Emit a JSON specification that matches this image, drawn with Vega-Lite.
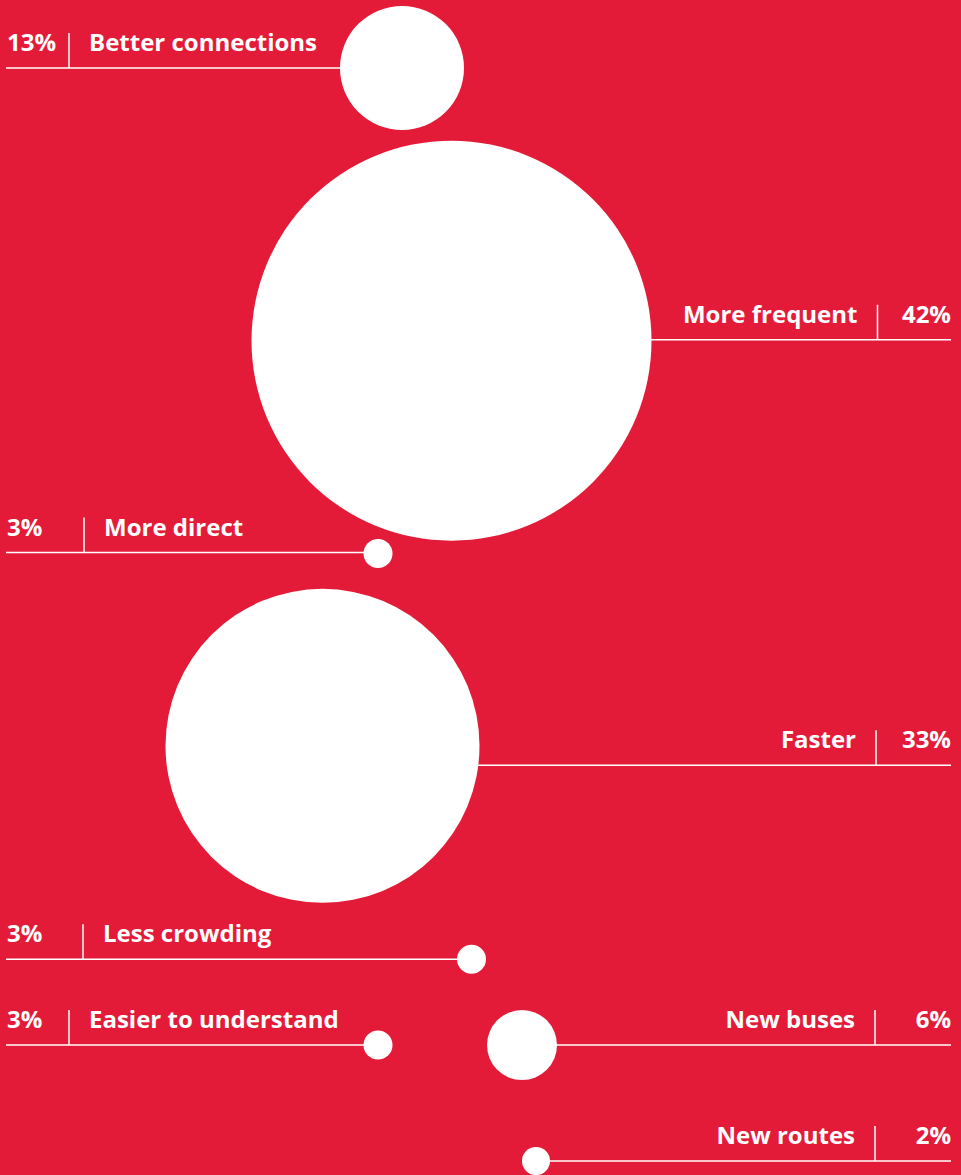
{
  "$schema": "https://vega.github.io/schema/vega-lite/v6.json",
  "width": 961,
  "height": 1175,
  "autosize": {"type": "fit", "contains": "padding"},
  "padding": 0,
  "background": "#E41B38",
  "config": {"view": {"stroke": null}},
  "data": {
    "values": [
      {"cat": "Better connections", "pct": 13, "label": "13%", "cx": 402, "cy": 68, "ly": 68, "side": "left", "div": 69},
      {"cat": "More frequent", "pct": 42, "label": "42%", "cx": 451.5, "cy": 341, "ly": 340, "side": "right", "div": 877.5},
      {"cat": "More direct", "pct": 3, "label": "3%", "cx": 378, "cy": 554, "ly": 553, "side": "left", "div": 84},
      {"cat": "Faster", "pct": 33, "label": "33%", "cx": 322.5, "cy": 746.5, "ly": 766, "side": "right", "div": 876},
      {"cat": "Less crowding", "pct": 3, "label": "3%", "cx": 471.5, "cy": 960, "ly": 960, "side": "left", "div": 83},
      {"cat": "Easier to understand", "pct": 3, "label": "3%", "cx": 378, "cy": 1046, "ly": 1046, "side": "left", "div": 69},
      {"cat": "New buses", "pct": 6, "label": "6%", "cx": 522, "cy": 1046, "ly": 1046, "side": "right", "div": 875},
      {"cat": "New routes", "pct": 2, "label": "2%", "cx": 536, "cy": 1162, "ly": 1162, "side": "right", "div": 875}
    ]
  },
  "layer": [
    {
      "transform": [{"filter": "datum.side === 'left'"}],
      "mark": {"type": "rule", "color": "#FFFFFF", "strokeWidth": 1.5},
      "encoding": {
        "x": {"field": "cx", "type": "quantitative", "scale": {"domain": [0, 961], "nice": false, "zero": false}, "axis": null},
        "x2": {"datum": 6},
        "y": {"field": "ly", "type": "quantitative", "scale": {"domain": [0, 1175], "reverse": true, "nice": false, "zero": false}, "axis": null}
      }
    },
    {
      "transform": [{"filter": "datum.side === 'right'"}],
      "mark": {"type": "rule", "color": "#FFFFFF", "strokeWidth": 1.5},
      "encoding": {
        "x": {"field": "cx", "type": "quantitative", "axis": null},
        "x2": {"datum": 951},
        "y": {"field": "ly", "type": "quantitative", "axis": null}
      }
    },
    {
      "mark": {"type": "rule", "color": "#FFFFFF", "strokeWidth": 1.5, "y2Offset": -35},
      "encoding": {
        "x": {"field": "div", "type": "quantitative", "axis": null},
        "y": {"field": "ly", "type": "quantitative", "axis": null},
        "y2": {"field": "ly"}
      }
    },
    {
      "mark": {"type": "point", "shape": "circle", "filled": true, "color": "#FFFFFF", "opacity": 1, "strokeWidth": 0},
      "encoding": {
        "x": {"field": "cx", "type": "quantitative", "axis": null},
        "y": {"field": "cy", "type": "quantitative", "axis": null},
        "size": {
          "field": "pct",
          "type": "quantitative",
          "scale": {"type": "linear", "domain": [2, 3, 6, 13, 33, 42], "range": [784, 841, 4900, 15376, 98596, 160000]},
          "legend": null
        }
      }
    },
    {
      "transform": [{"filter": "datum.side === 'left'"}],
      "mark": {"type": "text", "align": "left", "baseline": "alphabetic", "dy": -17, "font": "Open Sans", "fontWeight": "bold", "fontSize": 24, "color": "#FFFFFF"},
      "encoding": {
        "x": {"datum": 7, "type": "quantitative"},
        "y": {"field": "ly", "type": "quantitative"},
        "text": {"field": "label"}
      }
    },
    {
      "transform": [{"filter": "datum.side === 'right'"}],
      "mark": {"type": "text", "align": "right", "baseline": "alphabetic", "dy": -17, "font": "Open Sans", "fontWeight": "bold", "fontSize": 24, "color": "#FFFFFF"},
      "encoding": {
        "x": {"datum": 951, "type": "quantitative"},
        "y": {"field": "ly", "type": "quantitative"},
        "text": {"field": "label"}
      }
    },
    {
      "transform": [{"filter": "datum.side === 'left'"}],
      "mark": {"type": "text", "align": "left", "baseline": "alphabetic", "dx": 20, "dy": -17, "font": "Open Sans", "fontWeight": "bold", "fontSize": 24, "color": "#FFFFFF"},
      "encoding": {
        "x": {"field": "div", "type": "quantitative"},
        "y": {"field": "ly", "type": "quantitative"},
        "text": {"field": "cat"}
      }
    },
    {
      "transform": [{"filter": "datum.side === 'right'"}],
      "mark": {"type": "text", "align": "right", "baseline": "alphabetic", "dx": -20, "dy": -17, "font": "Open Sans", "fontWeight": "bold", "fontSize": 24, "color": "#FFFFFF"},
      "encoding": {
        "x": {"field": "div", "type": "quantitative"},
        "y": {"field": "ly", "type": "quantitative"},
        "text": {"field": "cat"}
      }
    }
  ]
}
